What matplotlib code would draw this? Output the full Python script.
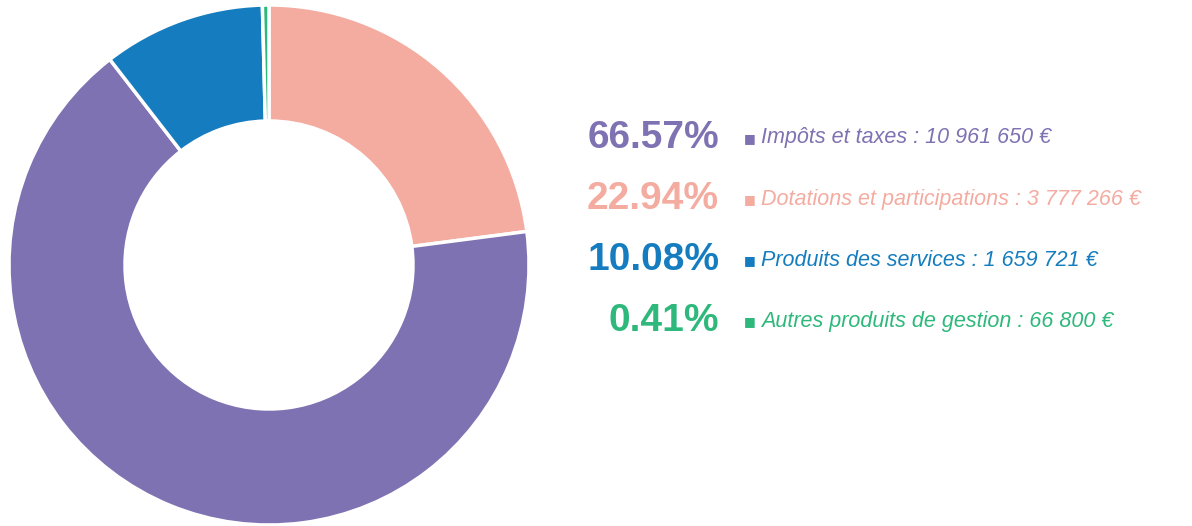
import matplotlib.pyplot as plt

# Recettes de fonctionnement
labels = ["Impôts et taxes", "Dotations et participations",
          "Produits des services", "Autres produits de gestion"]
values = [10961650, 3777266, 1659721, 66800]
colors = ["#7f72b2", "#f4aba0", "#157dbf", "#2eb87b"]

# ordre des parts dans l'anneau (sens horaire depuis midi)
pie_order = [1, 0, 2, 3]

total = sum(values)
pcts = [v / total * 100 for v in values]


def fmt_euro(v):
    return f"{v:,}".replace(",", " ") + " €"


W, H = 1192, 526
fig = plt.figure(figsize=(W / 100, H / 100), dpi=100)
ax = fig.add_axes([0, 0, 1, 1])

ax.pie([values[i] for i in pie_order],
       colors=[colors[i] for i in pie_order],
       startangle=90, counterclock=False,
       center=(269, H - 265), radius=260, frame=True,
       wedgeprops=dict(width=116, edgecolor="white", linewidth=2.5))

ax.set_xlim(0, W)
ax.set_ylim(0, H)
ax.set_aspect("equal")
ax.axis("off")

rows_y = [138, 199, 260, 321]
for i, y in enumerate(rows_y):
    ax.text(719, H - y, f"{pcts[i]:.2f}%", color=colors[i], fontsize=28,
            fontweight="bold", family="Liberation Sans", ha="right", va="center")
    ax.text(744, H - y - 1, "■", color=colors[i], fontsize=9,
            family="DejaVu Sans", ha="left", va="center")
    ax.text(761, H - y, f"{labels[i]} : {fmt_euro(values[i])}", color=colors[i],
            fontsize=15.5, style="italic",
            family="Liberation Sans", ha="left", va="center")

fig.savefig("out.png", dpi=100)
